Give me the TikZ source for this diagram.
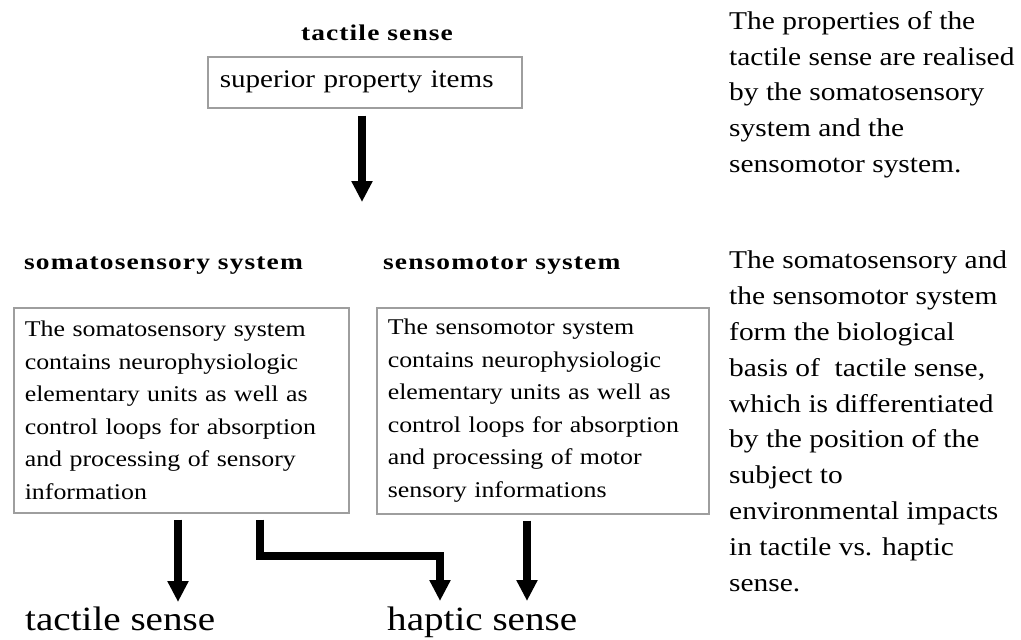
\documentclass[tikz,border=0pt]{standalone}
\usepackage{fontspec}
\setmainfont{Liberation Serif}[FakeStretch=1.15]
\newfontfamily\headfont{Liberation Serif}[FakeStretch=1.22,LetterSpace=5]
\usetikzlibrary{arrows.meta,calc}
\tikzset{
  grayframe/.style={draw=black!38, line width=1.6pt, rectangle},
  boxtext/.style={grayframe, align=left, anchor=north west, inner xsep=11pt, inner ysep=0pt,
    font=\fontsize{22.5}{32.5}\selectfont},
  headbold/.style={font=\headfont\bfseries\fontsize{22.5}{26}\selectfont, anchor=base west, inner sep=0pt},
  sidetext/.style={align=left, anchor=north west, inner sep=0pt, font=\fontsize{25.6}{35.8}\selectfont},
  bottomtext/.style={font=\fontsize{34}{38}\selectfont, anchor=base west, inner sep=0pt},
  fatarrow/.style={line width=8pt, -{Triangle[width=20pt,length=21pt]}},
}
\begin{document}
\begin{tikzpicture}[x=1pt,y=-1pt]
\useasboundingbox (0,0) rectangle (1021,640);
% top part
\node[headbold, anchor=base] (title) at (377,40) {tactile sense};
\node[grayframe, minimum width=314pt, minimum height=51pt, anchor=north west, align=left,
      font=\fontsize{25.3}{30}\selectfont, inner xsep=12pt, text width=290pt] (sup) at (207,56) {superior property items};
\coordinate (topend) at (362,202);
\draw[fatarrow] (sup.south -| topend) ++(0,7) -- (topend);

% headings
\node[headbold] (somh) at (24,269) {somatosensory system};
\node[headbold] (senh) at (383,269) {sensomotor system};

% boxes
\node[boxtext, minimum width=335pt, minimum height=205pt, text width=313pt] (som) at (13,307)
 {The somatosensory system\\contains neurophysiologic\\elementary units as well as\\control loops for absorption\\and processing of sensory\\information};
\node[boxtext, minimum width=332pt, minimum height=206pt, text width=310pt] (sen) at (376,307)
 {The sensomotor system\\contains neurophysiologic\\elementary units as well as\\control loops for absorption\\and processing of motor\\sensory informations};

% bottom labels
\node[bottomtext] (tac) at (25,630) {tactile sense};
\node[bottomtext] (hap) at (387,630) {haptic sense};

% bottom arrows
\coordinate (a1) at (178,602);
\coordinate (a2) at (440,601);
\coordinate (a3) at (527,601);
\draw[fatarrow] (som.south -| a1) ++(0,6) -- (a1);
\draw[line width=8pt, miter limit=10, -{Triangle[width=20pt,length=21pt]}]
  ($(som.south -| a1)+(82,6)$) |- ++(180,36) -- (a2);
\draw[fatarrow] (sen.south -| a3) ++(0,6) -- (a3);

% side texts
\node[sidetext] (side1) at (729,11) {The properties of the\\tactile sense are realised\\by the somatosensory\\system and the\\sensomotor system.};
\node[sidetext] (side2) at (729,251) {The somatosensory and\\the sensomotor system\\form the biological\\basis of\ \ tactile sense,\\which is differentiated\\by the position of the\\subject to\\environmental impacts\\in tactile vs. haptic\\sense.};
\end{tikzpicture}
\end{document}
